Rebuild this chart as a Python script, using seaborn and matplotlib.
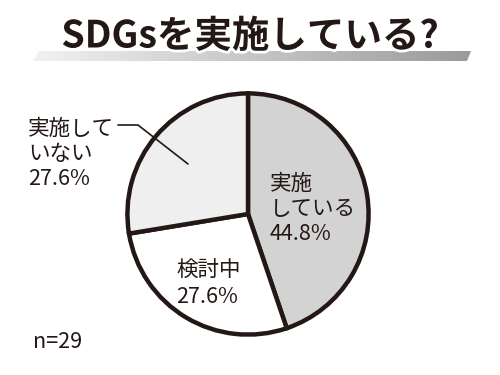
import numpy as np
import matplotlib
matplotlib.use("Agg")
import matplotlib.pyplot as plt
import matplotlib.patheffects as pe
from matplotlib.patches import Polygon
import seaborn as sns

sns.set_theme(style="white")
plt.rcParams['font.family'] = ['Noto Sans CJK JP', 'DejaVu Sans']

title = "SDGsを実施している?"
categories = ["実施している", "検討中", "実施していない"]
values = [44.8, 27.6, 27.6]
label_texts = ["実施\nしている\n44.8%", "検討中\n27.6%", "実施して\nいない\n27.6%"]
colors = ["#d3d3d3", "#ffffff", "#efefef"]
note = "n=29"

edge = "#231815"
fig = plt.figure(figsize=(5, 3.75), dpi=100)

# background overlay axes in pixel coords
bg = fig.add_axes([0, 0, 1, 1])
bg.axis("off")

# gradient banner
poly = Polygon([(33, 61), (39, 51), (471, 51), (467, 61)], closed=True,
               facecolor="none", edgecolor="none")
bg.add_patch(poly)
grad = np.linspace(0, 1, 256).reshape(1, -1)
cmap = matplotlib.colors.LinearSegmentedColormap.from_list("g", ["#f2f2f2", "#9a9a9a"])
im = bg.imshow(grad, extent=(33, 471, 61, 51), aspect="auto", cmap=cmap, zorder=1)
im.set_clip_path(poly)
bg.set_xlim(0, 500)
bg.set_ylim(375, 0)

# pie
ax = fig.add_axes([125 / 500, 1 - 337 / 375, 246 / 500, 246 / 375])
ax.pie(values, colors=colors, startangle=90, counterclock=False,
       wedgeprops=dict(edgecolor=edge, linewidth=3.2), radius=1)
ax.set_xlim(-1.02, 1.02)
ax.set_ylim(-1.02, 1.02)
ax.set_aspect("equal")

# foreground overlay for texts
fg = fig.add_axes([0, 0, 1, 1])
fg.axis("off")
fg.patch.set_alpha(0)
fg.set_xlim(0, 500)
fg.set_ylim(375, 0)

fg.text(250, 36, title, ha="center", va="center", fontsize=27, fontweight="bold",
        color=edge, zorder=3,
        path_effects=[pe.withStroke(linewidth=4, foreground="white")])

fg.text(33, 342, note, ha="left", va="center", fontsize=15.5, color=edge)

fs = 15.5
ls = 1.2
fg.text(270, 209, label_texts[0], ha="left", va="center", fontsize=fs,
        color=edge, linespacing=ls)
fg.text(176, 284, label_texts[1], ha="left", va="center", fontsize=fs,
        color=edge, linespacing=ls)
fg.text(28, 154, label_texts[2], ha="left", va="center", fontsize=fs,
        color=edge, linespacing=ls)

# leader line
fg.plot([118, 138, 188], [125, 125, 164], color=edge, linewidth=1.2, zorder=5)

fig.savefig("out.png", dpi=100)
